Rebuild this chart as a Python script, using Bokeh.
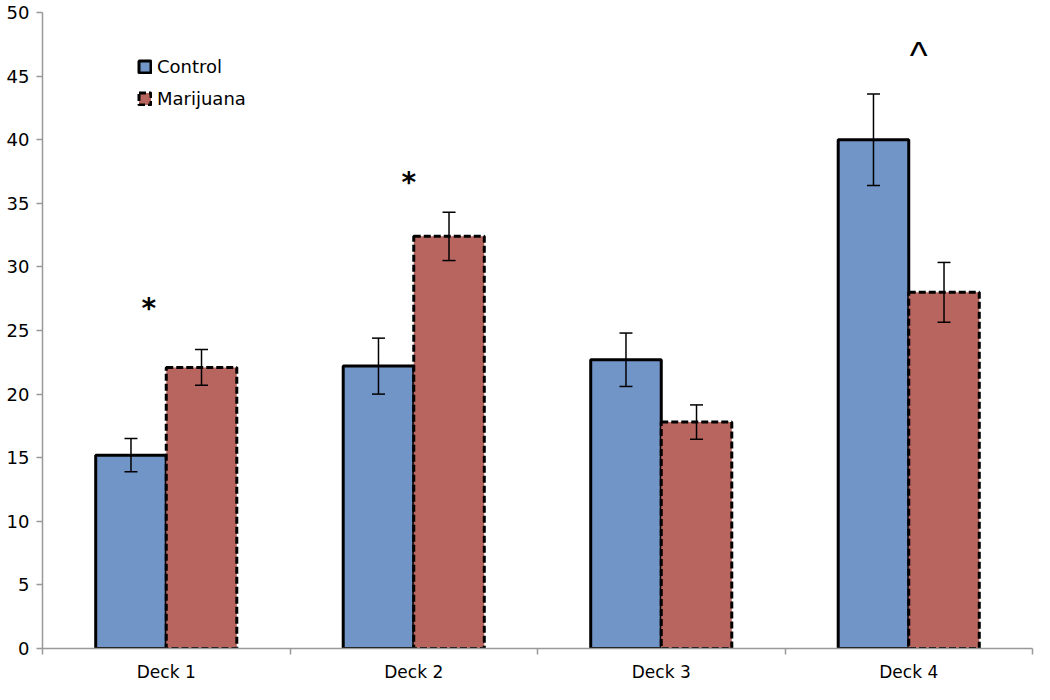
import numpy as np
from bokeh.plotting import figure
from bokeh.models import (ColumnDataSource, Range1d, FixedTicker, Whisker, TeeHead,
                          Legend, LegendItem, Label)
from bokeh.embed import file_html
from bokeh.resources import INLINE

decks = ["Deck 1", "Deck 2", "Deck 3", "Deck 4"]
control = [15.2, 22.2, 22.7, 40.0]
control_err = [1.3, 2.2, 2.1, 3.6]
marijuana = [22.1, 32.4, 17.8, 28.0]
marijuana_err = [1.4, 1.9, 1.35, 2.35]
ann_labels = ["*", "*", "^"]
ann_x = [0.43, 1.48, 3.54]
ann_y = [26.7, 36.6, 46.6]
y_ticks = list(range(0, 55, 5))

BLUE = "#7295c8"
RED = "#b9655f"
FONT = "DejaVu Sans"
BAR_W = 0.285

idx = np.arange(len(decks))
centers = idx + 0.5

src_c = ColumnDataSource(dict(
    x=centers - BAR_W / 2, top=control,
    upper=np.array(control) + np.array(control_err),
    lower=np.array(control) - np.array(control_err)))
src_m = ColumnDataSource(dict(
    x=centers + BAR_W / 2, top=marijuana,
    upper=np.array(marijuana) + np.array(marijuana_err),
    lower=np.array(marijuana) - np.array(marijuana_err)))

W, H = 1034, 684
TOP, BOTTOM = 12, 36
p = figure(width=W, height=H, output_backend="svg", toolbar_location=None,
           x_range=Range1d(0, len(decks)), y_range=Range1d(0, 50),
           min_border_left=42, min_border_right=2, min_border_top=TOP,
           min_border_bottom=BOTTOM)
p.outline_line_color = None
p.xgrid.grid_line_color = None
p.ygrid.grid_line_color = None
p.background_fill_color = "white"
p.border_fill_color = "white"

rc = p.vbar(x="x", top="top", width=BAR_W, bottom=0, source=src_c,
            fill_color=BLUE, line_color="black", line_width=3)
rm = p.vbar(x="x", top="top", width=BAR_W, bottom=0, source=src_m,
            fill_color=RED, line_color="black", line_width=3, line_dash="7 3")

for s in (src_c, src_m):
    w = Whisker(source=s, base="x", upper="upper", lower="lower", dimension="height",
                line_color="black", line_width=1.5, level="annotation",
                upper_head=TeeHead(size=13, line_color="black", line_width=1.5),
                lower_head=TeeHead(size=13, line_color="black", line_width=1.5))
    p.add_layout(w)

for lab, xx, yy in zip(ann_labels, ann_x, ann_y):
    if lab == "^":
        p.add_layout(Label(x=xx, y=yy, text=lab, text_align="center",
                           text_baseline="middle", text_font="Liberation Sans",
                           text_font_size="38px", text_color="black"))
    else:
        p.add_layout(Label(x=xx, y=yy, text=lab, text_align="center",
                           text_baseline="middle", text_font=FONT,
                           text_font_size="28px", text_font_style="bold",
                           text_color="black"))

# axes
ax = p.xaxis[0]
ax.ticker = FixedTicker(ticks=list(centers), minor_ticks=list(range(len(decks) + 1)))
ax.major_label_overrides = {float(c): d for c, d in zip(centers, decks)}
ax.major_tick_out = 0
ax.major_tick_in = 0
ax.minor_tick_out = 6
ax.minor_tick_in = 0
ax.minor_tick_line_color = "#999999"
ax.minor_tick_line_width = 1.5
ax.axis_line_color = "#999999"
ax.axis_line_width = 1.5
ax.major_label_text_font = FONT
ax.major_label_text_font_size = "17px"
ax.major_label_text_color = "black"
ax.major_label_standoff = 7

ay = p.yaxis[0]
ay.ticker = FixedTicker(ticks=y_ticks)
ay.major_tick_out = 6
ay.major_tick_in = 0
ay.minor_tick_out = 0
ay.minor_tick_in = 0
ay.major_tick_line_color = "#999999"
ay.major_tick_line_width = 1.5
ay.axis_line_color = "#999999"
ay.axis_line_width = 1.5
ay.major_label_text_font = FONT
ay.major_label_text_font_size = "18px"
ay.major_label_text_color = "black"
ay.major_label_standoff = 7

frame_h = H - TOP - BOTTOM
legend = Legend(items=[LegendItem(label="Control", renderers=[rc]),
                       LegendItem(label="Marijuana", renderers=[rm])],
                location=(95, frame_h - 44 - 53),
                border_line_color=None, background_fill_alpha=0,
                glyph_width=15, glyph_height=15, label_text_font=FONT,
                label_text_font_size="18px", label_text_color="black",
                spacing=11, label_standoff=5, padding=0, margin=0)
p.add_layout(legend)

open("out.html", "w").write(file_html(p, INLINE))
